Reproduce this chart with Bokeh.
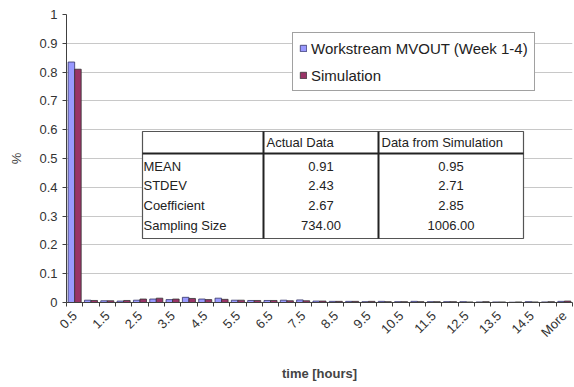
import numpy as np
from bokeh.plotting import figure
from bokeh.models import (ColumnDataSource, FixedTicker, Range1d, Legend, LegendItem)
from bokeh.core.properties import value
from bokeh.transform import dodge
from bokeh.embed import file_html
from bokeh.resources import INLINE

# ---------------- data ----------------
categories = ["0.5", "1", "1.5", "2", "2.5", "3", "3.5", "4", "4.5", "5", "5.5", "6",
              "6.5", "7", "7.5", "8", "8.5", "9", "9.5", "10", "10.5", "11", "11.5",
              "12", "12.5", "13", "13.5", "14", "14.5", "15", "More"]
tick_labels = ["0.5", "1.5", "2.5", "3.5", "4.5", "5.5", "6.5", "7.5", "8.5", "9.5",
               "10.5", "11.5", "12.5", "13.5", "14.5", "More"]
actual = [0.835, 0.008, 0.006, 0.005, 0.008, 0.012, 0.010, 0.018, 0.012, 0.015, 0.008,
          0.007, 0.007, 0.008, 0.009, 0.005, 0.004, 0.004, 0.003, 0.004, 0.003, 0.004,
          0.003, 0.003, 0.003, 0.002, 0.002, 0.001, 0.003, 0.002, 0.004]
simulation = [0.81, 0.007, 0.006, 0.007, 0.012, 0.015, 0.012, 0.014, 0.010, 0.011, 0.008,
              0.007, 0.007, 0.006, 0.006, 0.005, 0.004, 0.004, 0.004, 0.003, 0.003, 0.003,
              0.003, 0.003, 0.002, 0.003, 0.002, 0.002, 0.002, 0.003, 0.005]
series_names = ["Workstream MVOUT (Week 1-4)", "Simulation"]

table_header = ["", "Actual Data", "Data from Simulation"]
table_rows = ["MEAN", "STDEV", "Coefficient", "Sampling Size"]
table_actual = ["0.91", "2.43", "2.67", "734.00"]
table_sim = ["0.95", "2.71", "2.85", "1006.00"]

# ---------------- layout ----------------
W, H = 574, 387
FL, FR, FT, FB = 66, 572, 14, 302   # frame edges in px
FONT = "'Liberation Sans Narrow', 'Liberation Sans', Arial, sans-serif"
BLUE, RED = "#9999ff", "#993366"

n = len(categories)
x_lo, x_hi = -0.5, n - 0.5
idx = np.arange(n)

src = ColumnDataSource(dict(x=idx, a=actual, s=simulation, cat=categories))

p = figure(width=W, height=H, output_backend="svg", toolbar_location=None,
           x_range=Range1d(x_lo, x_hi), y_range=Range1d(0, 1),
           min_border_left=FL, min_border_right=W - FR,
           min_border_top=FT, min_border_bottom=H - FB)
p.outline_line_color = None
p.background_fill_color = "white"

r1 = p.vbar(x=dodge("x", -0.2), top="a", width=0.4, source=src,
            fill_color=BLUE, line_color="#333366", line_width=0.8)
r2 = p.vbar(x=dodge("x", 0.2), top="s", width=0.4, source=src,
            fill_color=RED, line_color="#333333", line_width=0.8)

# axes
xa = p.xaxis[0]
label_pos = [i for i in range(0, n, 2)]
xa.ticker = FixedTicker(ticks=label_pos, minor_ticks=[i - 0.5 for i in range(n + 1)])
xa.major_label_overrides = {pos: lab for pos, lab in zip(label_pos, tick_labels)}
xa.major_label_orientation = np.pi / 4
xa.major_tick_out = 0
xa.major_tick_in = 0
xa.minor_tick_out = 4
xa.minor_tick_in = 0
xa.minor_tick_line_color = "#404040"
xa.axis_line_color = "#404040"
xa.major_label_text_font = FONT
xa.major_label_text_font_size = "13px"
xa.major_label_text_color = "#333333"
xa.major_label_standoff = 7
xa.axis_label = "time [hours]"
xa.axis_label_text_font = FONT
xa.axis_label_text_font_size = "13px"
xa.axis_label_text_font_style = "bold"
xa.axis_label_standoff = 18

ya = p.yaxis[0]
ya.ticker = FixedTicker(ticks=[round(0.1 * i, 1) for i in range(11)])
ya.major_label_overrides = {0: "0", 1: "1"}
ya.major_tick_out = 4
ya.major_tick_in = 0
ya.minor_tick_out = 0
ya.minor_tick_in = 0
ya.axis_line_color = "#404040"
ya.major_tick_line_color = "#404040"
ya.major_label_text_font = FONT
ya.major_label_text_font_size = "13px"
ya.major_label_text_color = "#333333"
ya.axis_label = "%"
ya.axis_label_text_font = FONT
ya.axis_label_text_font_size = "13px"
ya.axis_label_text_font_style = "normal"
ya.axis_label_standoff = 12

p.xgrid.grid_line_color = None
p.ygrid.grid_line_color = "#c8c8c8"
p.ygrid.grid_line_width = 1

# ---------------- stats table (positioned in px, converted to data) ----------------
def xd(px):
    return x_lo + (px - FL) * (x_hi - x_lo) / (FR - FL)

def yd(py):
    return (FB - py) / (FB - FT)

t_left, t_c1, t_c2, t_right = 142, 263, 378, 523
t_top, t_head, t_bot = 131, 153, 238
row_y = [166, 185, 205, 225]
head_y = 142

p.quad(left=[xd(t_left)], right=[xd(t_right)], top=[yd(t_top)], bottom=[yd(t_bot)],
       fill_color="white", line_color="#555555", line_width=1.2)
p.segment(x0=[xd(t_c1), xd(t_c2), xd(t_left)], x1=[xd(t_c1), xd(t_c2), xd(t_right)],
          y0=[yd(t_top), yd(t_top), yd(t_head)], y1=[yd(t_bot), yd(t_bot), yd(t_head)],
          line_color="#222222", line_width=2)

tfs = "13px"
p.text(x=[xd(t_c1 + 3), xd(t_c2 + 3)], y=[yd(head_y)] * 2, text=table_header[1:],
       text_font=value(FONT), text_font_size=tfs, text_baseline="middle",
       text_align="left", text_color="#222222")
p.text(x=[xd(t_left + 1)] * len(table_rows), y=[yd(v) for v in row_y], text=table_rows,
       text_font=value(FONT), text_font_size=tfs, text_baseline="middle",
       text_align="left", text_color="#222222")
p.text(x=[xd((t_c1 + t_c2) / 2)] * len(table_actual), y=[yd(v) for v in row_y],
       text=table_actual, text_font=value(FONT), text_font_size=tfs,
       text_baseline="middle", text_align="center", text_color="#222222")
p.text(x=[xd((t_c2 + t_right) / 2)] * len(table_sim), y=[yd(v) for v in row_y],
       text=table_sim, text_font=value(FONT), text_font_size=tfs,
       text_baseline="middle", text_align="center", text_color="#222222")

# ---------------- legend ----------------
legend = Legend(items=[LegendItem(label=series_names[0], renderers=[r1]),
                       LegendItem(label=series_names[1], renderers=[r2])],
                location=(292 - FL, FB - 91))
legend.border_line_color = "#444444"
legend.border_line_width = 1
legend.background_fill_alpha = 1
legend.label_text_font = FONT
legend.label_text_font_size = "15px"
legend.label_text_color = "#222222"
legend.glyph_width = 8
legend.glyph_height = 8
legend.label_height = 18
legend.spacing = 9
legend.padding = 6
legend.margin = 0
legend.label_standoff = 4
p.add_layout(legend)

open("out.html", "w").write(file_html(p, INLINE))
